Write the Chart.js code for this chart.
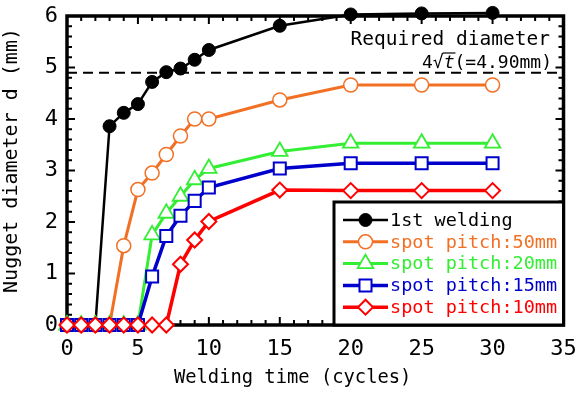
<!DOCTYPE html>
<html><head><meta charset="utf-8">
<script src="https://cdn.jsdelivr.net/npm/chart.js@4"></script>
<style>html,body{margin:0;padding:0;background:#fff}#wrap{width:576px;height:396px;position:relative}</style>
</head><body><div id="wrap"><canvas id="c"></canvas></div>
<script>
// ---- data ----
const cycles = [0,1,2,3,4,5,6,7,8,9,10,15,20,25,30];
const firstWelding = [0,0,0,3.86,4.12,4.29,4.72,4.91,4.98,5.15,5.34,5.81,6.03,6.05,6.06];
const pitch50 = [0,0,0,0,1.54,2.63,2.95,3.31,3.67,4.0,4.0,4.37,4.66,4.66,4.66];
const pitch20 = [0,0,0,0,0,0,1.75,2.17,2.5,2.82,3.04,3.37,3.53,3.53,3.53];
const pitch15 = [0,0,0,0,0,0,0.94,1.73,2.12,2.41,2.67,3.04,3.14,3.14,3.14];
const pitch10 = [0,0,0,0,0,0,0,0,1.18,1.65,2.01,2.62,2.61,2.61,2.61];
const seriesLabels = ['1st welding','spot pitch:50mm','spot pitch:20mm','spot pitch:15mm','spot pitch:10mm'];
const xTickValues = [0,5,10,15,20,25,30,35];
const yTickValues = [0,1,2,3,4,5,6];
const requiredDiameter = 4.90;
const requiredLabel = 'Required diameter';

const MONO = '"DejaVu Sans Mono", "Liberation Mono", monospace';
const pts = arr => cycles.map((c,i)=>({x:c, y:arr[i]}));

const styles = [
  {color:'#000000', fill:'#000000', pointStyle:'circle', radius:6.5, bw:1, lw:2.5, order:5},
  {color:'#F27024', fill:'#ffffff', pointStyle:'circle', radius:7, bw:1.5, lw:3, order:4},
  {color:'#33EE33', fill:'#ffffff', pointStyle:'triangle', radius:9, bw:1.8, lw:3, order:3},
  {color:'#0000CC', fill:'#ffffff', pointStyle:'rect', radius:8.5, bw:2, lw:3.5, order:2},
  {color:'#FF0000', fill:'#ffffff', pointStyle:'rectRot', radius:7.5, bw:2, lw:3.5, order:1}
];
const seriesData = [firstWelding, pitch50, pitch20, pitch15, pitch10];

const datasets = seriesData.map((arr,i)=>({
  label: seriesLabels[i],
  data: pts(arr),
  borderColor: styles[i].color,
  backgroundColor: styles[i].fill,
  pointBackgroundColor: styles[i].fill,
  pointBorderColor: styles[i].color,
  pointBorderWidth: styles[i].bw,
  pointStyle: styles[i].pointStyle,
  pointRadius: styles[i].radius,
  pointHoverRadius: styles[i].radius,
  borderWidth: styles[i].lw,
  tension: 0,
  clip: false,
  order: styles[i].order
}));

function marker(ctx, style, x, y, r) {
  ctx.beginPath();
  if (style === 'circle') { ctx.arc(x, y, r, 0, Math.PI*2); }
  else if (style === 'triangle') {
    let rad = 0;
    ctx.moveTo(x + Math.sin(rad)*r, y - Math.cos(rad)*r); rad += 2*Math.PI/3;
    ctx.lineTo(x + Math.sin(rad)*r, y - Math.cos(rad)*r); rad += 2*Math.PI/3;
    ctx.lineTo(x + Math.sin(rad)*r, y - Math.cos(rad)*r);
    ctx.closePath();
  } else if (style === 'rect') {
    const s = Math.SQRT1_2*r; ctx.rect(x-s, y-s, 2*s, 2*s);
  } else if (style === 'rectRot') {
    ctx.moveTo(x-r, y); ctx.lineTo(x, y-r); ctx.lineTo(x+r, y); ctx.lineTo(x, y+r); ctx.closePath();
  }
  ctx.fill(); ctx.stroke();
}

const decor = {
  id: 'decor',
  beforeDatasetsDraw(chart) {
    const {ctx, chartArea:a, scales:{x, y}} = chart;
    ctx.save();
    const yr = y.getPixelForValue(requiredDiameter);
    ctx.strokeStyle = '#000'; ctx.lineWidth = 2; ctx.setLineDash([10,6]);
    ctx.beginPath(); ctx.moveTo(a.left, yr); ctx.lineTo(a.right, yr); ctx.stroke();
    ctx.setLineDash([]);
    ctx.lineWidth = 2;
    ctx.beginPath();
    for (let v = x.min; v <= x.max; v++) {
      const px = x.getPixelForValue(v);
      const len = v % 5 === 0 ? 8 : 5;
      ctx.moveTo(px, a.bottom); ctx.lineTo(px, a.bottom - len);
      ctx.moveTo(px, a.top); ctx.lineTo(px, a.top + len);
    }
    for (let i = 0; i <= y.max*5; i++) {
      const py = y.getPixelForValue(i/5);
      const len = i % 5 === 0 ? 8 : 5;
      ctx.moveTo(a.left, py); ctx.lineTo(a.left + len, py);
      ctx.moveTo(a.right, py); ctx.lineTo(a.right - len, py);
    }
    ctx.stroke();
    ctx.lineWidth = 3.5;
    ctx.strokeRect(a.left, a.top, a.right - a.left, a.bottom - a.top);
    ctx.restore();
  },
  afterDraw(chart) {
    const {ctx, chartArea:a} = chart;
    ctx.save();
    ctx.fillStyle = '#000';
    ctx.font = '19.5px ' + MONO;
    ctx.textAlign = 'right'; ctx.textBaseline = 'alphabetic';
    ctx.fillText(requiredLabel, 550, 45);
    const base = 68, right = 552;
    const f1 = '18px ' + MONO, fi = 'italic 18px ' + MONO;
    ctx.textAlign = 'left';
    ctx.font = f1; const w4 = ctx.measureText('4').width;
    const wr = ctx.measureText('\u221A').width;
    const wtail = ctx.measureText('(=4.90mm)').width;
    ctx.font = fi; const wt = ctx.measureText('t').width;
    let sx = right - (w4 + wr + wt + wtail);
    ctx.font = f1; ctx.fillText('4', sx, base); sx += w4;
    ctx.fillText('\u221A', sx, base); const rootX = sx + wr; sx += wr;
    ctx.font = fi; ctx.fillText('t', sx, base); sx += wt;
    ctx.lineWidth = 1.2; ctx.strokeStyle = '#000';
    ctx.beginPath(); ctx.moveTo(rootX - 1, base - 15); ctx.lineTo(rootX + wt + 1, base - 15); ctx.stroke();
    ctx.font = f1; ctx.fillText('(=4.90mm)', sx, base);

    const bx = 334, by = 202, bw = a.right - 334, bh = a.bottom - 202;
    ctx.fillStyle = '#fff';
    ctx.fillRect(bx, by, bw, bh);
    ctx.lineWidth = 3; ctx.strokeStyle = '#000';
    ctx.strokeRect(bx, by, bw, bh);
    ctx.font = '18.5px ' + MONO;
    ctx.textBaseline = 'middle'; ctx.textAlign = 'left';
    chart.data.datasets.forEach((ds, i) => {
      const yy = 220 + i*21.8;
      const st = styles[i];
      ctx.strokeStyle = st.color; ctx.lineWidth = st.lw;
      ctx.beginPath(); ctx.moveTo(343, yy); ctx.lineTo(388, yy); ctx.stroke();
      ctx.fillStyle = st.fill; ctx.strokeStyle = st.color; ctx.lineWidth = st.bw;
      marker(ctx, st.pointStyle, 365.5, yy, st.radius);
      ctx.fillStyle = i === 0 ? '#000' : st.color;
      ctx.fillText(ds.label, 390, yy + 1);
    });
    ctx.restore();
  }
};

new Chart(document.getElementById('c'), {
  type: 'line',
  data: { datasets },
  plugins: [decor],
  options: {
    responsive: true,
    maintainAspectRatio: false,
    animation: false,
    events: [],
    layout: { padding: { top: 16, right: 12.5, left: 0, bottom: 0 } },
    plugins: { legend: { display: false }, tooltip: { enabled: false } },
    scales: {
      x: {
        type: 'linear', min: 0, max: 35,
        afterBuildTicks: s => { s.ticks = xTickValues.map(v => ({value: v})); },
        afterFit: s => { s.height = 71; s.paddingLeft = 0; s.paddingRight = 0; },
        grid: { display: false, drawTicks: false },
        border: { display: false },
        ticks: { color: '#000', font: { family: MONO, size: 22 }, padding: 11, maxRotation: 0 },
        title: { display: true, text: 'Welding time (cycles)    ', color: '#000',
                 font: { family: MONO, size: 18.8 }, padding: { top: 0, bottom: 7 } }
      },
      y: {
        min: 0, max: 6,
        afterBuildTicks: s => { s.ticks = yTickValues.map(v => ({value: v})); },
        afterFit: s => { s.width = 67; s.paddingTop = 0; s.paddingBottom = 0; },
        grid: { display: false, drawTicks: false },
        border: { display: false },
        ticks: { color: '#000', font: { family: MONO, size: 22 }, padding: 9 },
        title: { display: true, text: 'Nugget diameter d (mm) ', align: 'end', color: '#000',
                 font: { family: MONO, size: 20 }, padding: { top: 0, bottom: 0 } }
      }
    }
  }
});
</script>
</body></html>
